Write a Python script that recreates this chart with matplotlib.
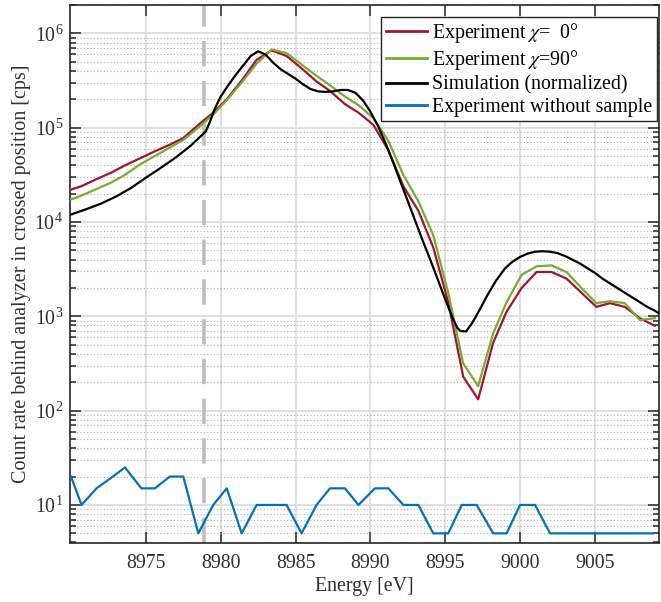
import numpy as np
import matplotlib
matplotlib.use("Agg")
import matplotlib.pyplot as plt
from matplotlib.ticker import LogLocator, FixedLocator, NullFormatter

plt.rcParams['font.family'] = ['Liberation Serif', 'DejaVu Serif']
plt.rcParams['mathtext.fontset'] = 'stix'

# ---- data (log10 of count rate) ----
energy_exp = [8970.0, 8970.7, 8971.7, 8972.7, 8973.6, 8974.6, 8975.6, 8976.6, 8977.5, 8978.5,
              8979.5, 8980.4, 8981.4, 8982.4, 8983.4, 8984.4, 8985.4, 8986.4, 8987.3, 8988.3,
              8989.2, 8990.2, 8991.2, 8992.2, 8993.2, 8994.2, 8995.2, 8996.2, 8997.2, 8998.2,
              8999.1, 9000.1, 9001.1, 9002.1, 9003.1, 9004.1, 9005.1, 9006.0, 9007.0, 9008.0,
              9009.0]
log_chi0 = [4.344, 4.38, 4.455, 4.525, 4.60, 4.675, 4.75, 4.82, 4.89, 5.03,
            5.16, 5.30, 5.50, 5.72, 5.82, 5.76, 5.63, 5.49, 5.39, 5.25,
            5.16, 5.03, 4.76, 4.38, 4.12, 3.73, 3.15, 2.36, 2.12, 2.72,
            3.05, 3.30, 3.47, 3.47, 3.40, 3.25, 3.10, 3.14, 3.10, 2.98,
            2.90]
log_chi90 = [4.24, 4.28, 4.35, 4.42, 4.50, 4.61, 4.70, 4.79, 4.87, 5.00,
             5.14, 5.29, 5.48, 5.68, 5.83, 5.79, 5.67, 5.55, 5.45, 5.33,
             5.24, 5.10, 4.86, 4.50, 4.22, 3.86, 3.25, 2.50, 2.26, 2.82,
             3.15, 3.44, 3.53, 3.54, 3.47, 3.30, 3.14, 3.16, 3.14, 2.96,
             2.98]

energy_sim = [8970.0, 8971.0, 8972.0, 8973.0, 8974.0, 8975.0, 8976.0, 8977.0, 8978.0, 8978.6,
              8979.0, 8979.3, 8979.6, 8980.0, 8980.5, 8981.0, 8981.5, 8982.0, 8982.5, 8983.0,
              8983.5, 8984.0, 8984.5, 8985.0, 8985.5, 8986.0, 8986.5, 8987.0, 8987.5, 8988.0,
              8988.5, 8989.0, 8989.5, 8990.0, 8990.5, 8991.0, 8991.5, 8992.0, 8992.5, 8993.0,
              8993.5, 8994.0, 8994.5, 8995.0, 8995.5, 8995.8, 8996.0, 8996.4, 8996.8, 8997.3,
              8997.8, 8998.4, 8999.0, 8999.5, 9000.0, 9000.5, 9001.0, 9001.5, 9002.0, 9002.5,
              9003.0, 9003.5, 9004.0, 9004.5, 9005.0, 9005.5, 9006.0, 9006.5, 9007.0, 9007.5,
              9008.0, 9008.5, 9009.0, 9009.3]
log_sim = [4.08, 4.135, 4.195, 4.27, 4.36, 4.47, 4.575, 4.685, 4.81, 4.90,
           4.96, 5.07, 5.20, 5.33, 5.45, 5.56, 5.66, 5.76, 5.81, 5.775,
           5.69, 5.62, 5.57, 5.52, 5.46, 5.41, 5.385, 5.38, 5.385, 5.40,
           5.40, 5.37, 5.29, 5.17, 5.02, 4.84, 4.64, 4.43, 4.22, 4.01,
           3.80, 3.60, 3.39, 3.18, 2.98, 2.88, 2.845, 2.84, 2.93, 3.07,
           3.22, 3.38, 3.51, 3.58, 3.63, 3.665, 3.685, 3.69, 3.685, 3.67,
           3.64, 3.60, 3.56, 3.51, 3.46, 3.40, 3.35, 3.30, 3.25, 3.20,
           3.15, 3.10, 3.06, 3.03]

energy_bg = [8970.0, 8970.7, 8971.7, 8972.8, 8973.6, 8974.7, 8975.6, 8976.6, 8977.5, 8978.5,
             8979.5, 8980.4, 8981.4, 8982.4, 8983.4, 8984.4, 8985.4, 8986.4, 8987.3, 8988.3,
             8989.2, 8990.3, 8991.2, 8992.2, 8993.2, 8994.2, 8995.2, 8996.1, 8997.1, 8998.2,
             8999.1, 9000.0, 9001.0, 9002.0, 9003.0, 9004.0, 9005.0, 9006.0, 9007.0, 9008.0,
             9008.9]
count_bg = [20, 10, 15, 20, 25, 15, 15, 20, 20, 5,
            10, 15, 5, 10, 10, 10, 5, 10, 15, 15,
            10, 15, 15, 10, 10, 5, 5, 10, 10, 5,
            5, 10, 10, 5, 5, 5, 5, 5, 5, 5,
            5]

edge_energy = 8978.9

labels = [r'Experiment $\chi$=  0°', r'Experiment $\chi$=90°',
          'Simulation (normalized)', 'Experiment without sample']
colors = ['#A2142F', '#77AC30', '#000000', '#0072BD']
x_ticks = [8975, 8980, 8985, 8990, 8995, 9000, 9005]

FS = 14.3
TXT = '#303030'

# ---- figure ----
fig = plt.figure(figsize=(6.61, 6.02), dpi=100)
ax = fig.add_axes([70/661, 1-543/602, (659-70)/661, (543-5)/602])

ax.set_yscale('log')
ax.set_xlim(8969.93, 9009.28)
ax.set_ylim(3.95, 2.0e6)

# grid
ax.grid(True, which='major', color='#dcdcdc', linewidth=1.3, linestyle='-')
ax.yaxis.grid(True, which='minor', color='#b0b0b0', linewidth=0.8, linestyle=(0, (1, 2)))
ax.set_axisbelow(True)

ax.axvline(edge_energy, color='#bdbdbd', linewidth=2.6, linestyle=(0, (7, 4)), zorder=1.5)

lw = 1.6
ax.plot(energy_exp, np.power(10.0, log_chi0), color=colors[0], lw=lw, label=labels[0], zorder=3)
ax.plot(energy_exp, np.power(10.0, log_chi90), color=colors[1], lw=lw, label=labels[1], zorder=3)
ax.plot(energy_sim, np.power(10.0, log_sim), color=colors[2], lw=lw, label=labels[2], zorder=3)
ax.plot(energy_bg, count_bg, color=colors[3], lw=lw, label=labels[3], zorder=3)

ax.xaxis.set_major_locator(FixedLocator(x_ticks))
ax.yaxis.set_major_locator(LogLocator(base=10, numticks=20))
ax.yaxis.set_minor_locator(LogLocator(base=10, subs=np.arange(2, 10), numticks=20))
ax.yaxis.set_minor_formatter(NullFormatter())

ax.tick_params(which='both', direction='in', top=True, right=True,
               colors='#262626', labelcolor=TXT, labelsize=FS, width=1.1)
ax.tick_params(which='major', length=8)
ax.tick_params(which='minor', length=4.5)
ax.tick_params(axis='x', pad=8)
ax.tick_params(axis='y', pad=5)

for s in ax.spines.values():
    s.set_color('#262626')
    s.set_linewidth(1.2)

ax.set_xlabel('Energy [eV]', fontsize=FS, color=TXT, labelpad=3)
ax.set_ylabel('Count rate behind analyzer in crossed position [cps]', fontsize=14.5,
              color=TXT, labelpad=2)

leg = ax.legend(loc='upper right', bbox_to_anchor=(657/661, 1-17/602),
                bbox_transform=fig.transFigure, borderaxespad=0,
                fontsize=FS, frameon=True, fancybox=False, framealpha=1,
                edgecolor='#262626', handlelength=2.1, handletextpad=0.25,
                labelspacing=0.15, borderpad=0.22)
leg.get_frame().set_linewidth(1.0)
for h in leg.get_lines():
    h.set_linewidth(2.0)

fig.savefig('out.png', dpi=100)
